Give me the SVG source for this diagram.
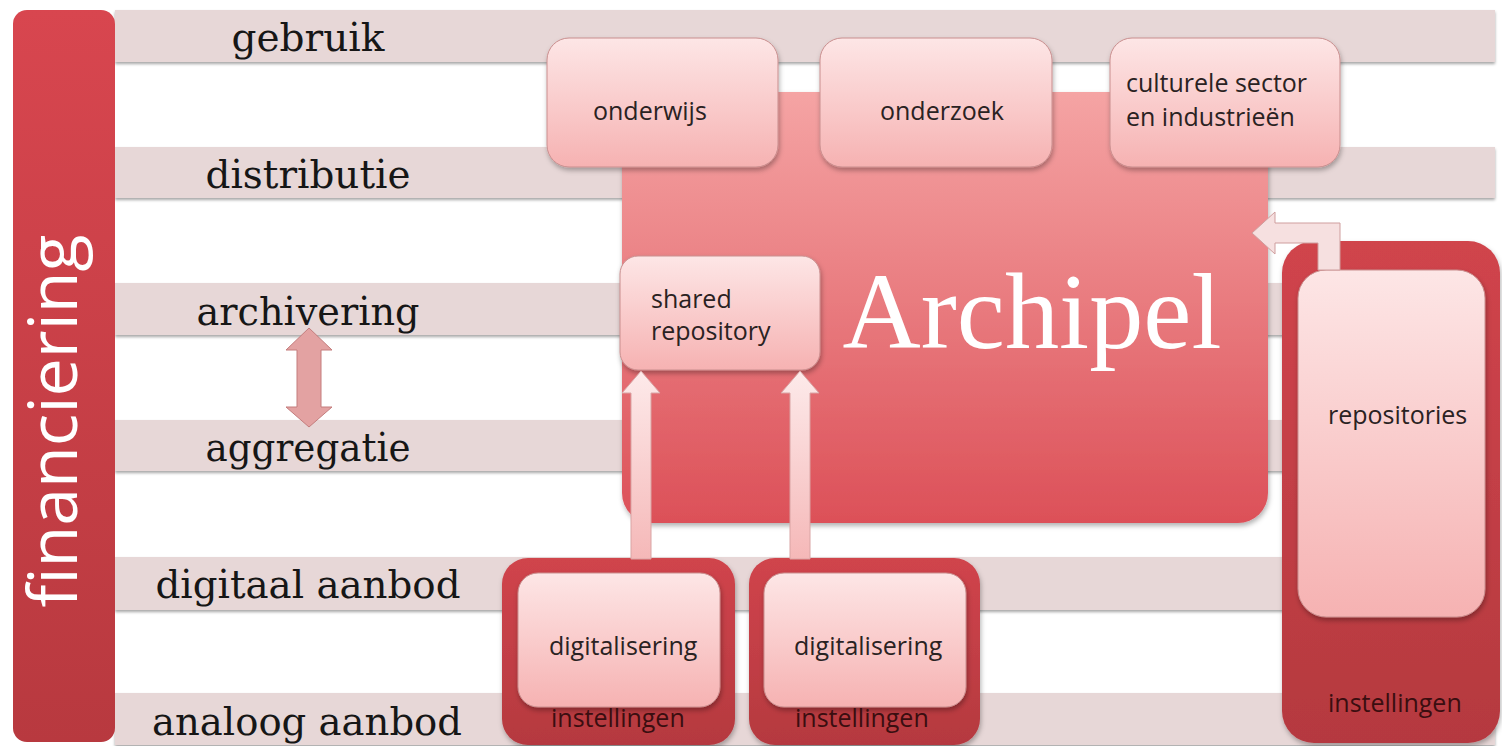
<svg xmlns="http://www.w3.org/2000/svg" width="1502" height="746" viewBox="0 0 1502 746">
<defs>
  <linearGradient id="gBar" x1="0" y1="0" x2="0" y2="1">
    <stop offset="0" stop-color="#d8464f"/>
    <stop offset="1" stop-color="#b8393f"/>
  </linearGradient>
  <linearGradient id="gArch" x1="0" y1="0" x2="0" y2="1">
    <stop offset="0" stop-color="#f5a4a4"/>
    <stop offset="1" stop-color="#dc5058"/>
  </linearGradient>
  <linearGradient id="gLight" x1="0" y1="0" x2="0" y2="1">
    <stop offset="0" stop-color="#fde6e6"/>
    <stop offset="1" stop-color="#f6b2b2"/>
  </linearGradient>
  <linearGradient id="gOuter" x1="0" y1="0" x2="0" y2="1">
    <stop offset="0" stop-color="#d0444c"/>
    <stop offset="1" stop-color="#b5393f"/>
  </linearGradient>
  <linearGradient id="gArrow" x1="0" y1="0" x2="0" y2="1">
    <stop offset="0" stop-color="#fdeaea"/>
    <stop offset="1" stop-color="#f5b8b8"/>
  </linearGradient>
  <filter id="sh" x="-10%" y="-10%" width="120%" height="125%">
    <feDropShadow dx="1" dy="3" stdDeviation="2.5" flood-color="#000" flood-opacity="0.3"/>
  </filter>
  <filter id="shs" x="-10%" y="-20%" width="120%" height="150%">
    <feDropShadow dx="0" dy="2" stdDeviation="1.5" flood-color="#000" flood-opacity="0.35"/>
  </filter>
</defs>
<style>
  .band { fill: #e7d7d7; }
  .bandline { fill: #a99c9c; }
  .lane { font-family: "DejaVu Serif", "Liberation Serif", serif; font-size: 38.5px; fill: #161616; text-anchor: middle; }
  .lbl { font-family: "Open Sans", "Liberation Sans", sans-serif; font-size: 25px; fill: #2a2222; }
  .inst { font-family: "Open Sans", "Liberation Sans", sans-serif; font-size: 25px; fill: #3a0e10; }
  .light { fill: url(#gLight); stroke: #c98e8e; stroke-width: 1; filter: url(#sh); }
  .outer { fill: url(#gOuter); filter: url(#sh); }
  .arrow { fill: url(#gArrow); stroke: #d9a4a4; stroke-width: 1; }
</style>
<rect width="1502" height="746" fill="#ffffff"/>

<g id="lanes">
  <g id="lane-gebruik">
    <rect class="band" x="115" y="10" width="1380" height="52" filter="url(#shs)"/>
    <text class="lane" x="308" y="51" textLength="153" lengthAdjust="spacingAndGlyphs">gebruik</text>
  </g>
  <g id="lane-distributie">
    <rect class="band" x="115" y="147" width="1380" height="51" filter="url(#shs)"/>
    <text class="lane" x="308" y="188" textLength="205" lengthAdjust="spacingAndGlyphs">distributie</text>
  </g>
  <g id="lane-archivering">
    <rect class="band" x="115" y="283" width="1380" height="52" filter="url(#shs)"/>
    <text class="lane" x="308" y="325" textLength="223" lengthAdjust="spacingAndGlyphs">archivering</text>
  </g>
  <g id="lane-aggregatie">
    <rect class="band" x="115" y="420" width="1380" height="51" filter="url(#shs)"/>
    <text class="lane" x="308" y="461" textLength="205" lengthAdjust="spacingAndGlyphs">aggregatie</text>
  </g>
  <g id="lane-digitaal">
    <rect class="band" x="115" y="557" width="1380" height="53" filter="url(#shs)"/>
    <text class="lane" x="308" y="598" textLength="305" lengthAdjust="spacingAndGlyphs">digitaal aanbod</text>
  </g>
  <g id="lane-analoog">
    <rect class="band" x="115" y="693" width="1380" height="52" filter="url(#shs)"/>
    <text class="lane" x="307" y="735" textLength="310" lengthAdjust="spacingAndGlyphs">analoog aanbod</text>
  </g>
</g>

<g id="financiering">
  <rect x="13" y="10" width="102" height="732" rx="14" fill="url(#gBar)"/>
  <text transform="translate(77,421) rotate(-90)" x="0" y="0" text-anchor="middle" font-family="'Open Sans', 'Liberation Sans', sans-serif" font-size="68" fill="#ffffff" textLength="373" lengthAdjust="spacingAndGlyphs">financiering</text>
</g>

<g id="archipel">
  <rect x="622" y="92" width="646" height="431" rx="30" fill="url(#gArch)" filter="url(#sh)"/>
  <text x="1032" y="348" text-anchor="middle" font-family="'Liberation Serif', serif" font-size="108" fill="#ffffff" textLength="379" lengthAdjust="spacingAndGlyphs">Archipel</text>
</g>

<g id="onderwijs">
  <rect class="light" x="547" y="38" width="231" height="129" rx="22"/>
  <text class="lbl" x="593" y="120">onderwijs</text>
</g>
<g id="onderzoek">
  <rect class="light" x="820" y="38" width="232" height="129" rx="22"/>
  <text class="lbl" x="880" y="120">onderzoek</text>
</g>
<g id="culturele-sector">
  <rect class="light" x="1110" y="38" width="230" height="129" rx="22"/>
  <text class="lbl" x="1126" y="92">culturele sector</text>
  <text class="lbl" x="1126" y="126">en industrieën</text>
</g>

<g id="shared-repository">
  <rect class="light" x="620" y="256" width="200" height="114" rx="18"/>
  <text class="lbl" x="651" y="308">shared</text>
  <text class="lbl" x="651" y="340">repository</text>
</g>

<g id="instellingen-1">
  <rect class="outer" x="502" y="558" width="233" height="187" rx="26"/>
  <rect class="light" x="518" y="573" width="202" height="134" rx="20"/>
  <text class="lbl" x="549" y="655">digitalisering</text>
  <text class="inst" x="551" y="727">instellingen</text>
</g>
<g id="instellingen-2">
  <rect class="outer" x="749" y="558" width="231" height="187" rx="26"/>
  <rect class="light" x="764" y="573" width="202" height="134" rx="20"/>
  <text class="lbl" x="794" y="655">digitalisering</text>
  <text class="inst" x="795" y="727">instellingen</text>
</g>

<g id="instellingen-3">
  <rect class="outer" x="1282" y="241" width="218" height="502" rx="32"/>
  <rect class="light" x="1298" y="270" width="187" height="347" rx="28"/>
  <text class="lbl" x="1328" y="424">repositories</text>
  <text class="inst" x="1328" y="712">instellingen</text>
</g>

<g id="connectors">
  <path class="arrow" d="M309,328 L332,350 L321,350 L321,407 L332,407 L309,427 L286,407 L297,407 L297,350 L286,350 Z" style="fill:#e3a2a2;stroke:#c47d7d"/>
  <path class="arrow" d="M641,371 L660,393 L651,393 L651,559 L631,559 L631,393 L622,393 Z"/>
  <path class="arrow" d="M800,371 L819,393 L810,393 L810,559 L790,559 L790,393 L781,393 Z"/>
  <path class="arrow" d="M1252,233 L1275,212 L1275,223 L1340,223 L1340,270 L1318,270 L1318,243 L1275,243 L1275,254 Z" style="fill:#f6e0e0;stroke:#cf9e9e"/>
</g>
</svg>
